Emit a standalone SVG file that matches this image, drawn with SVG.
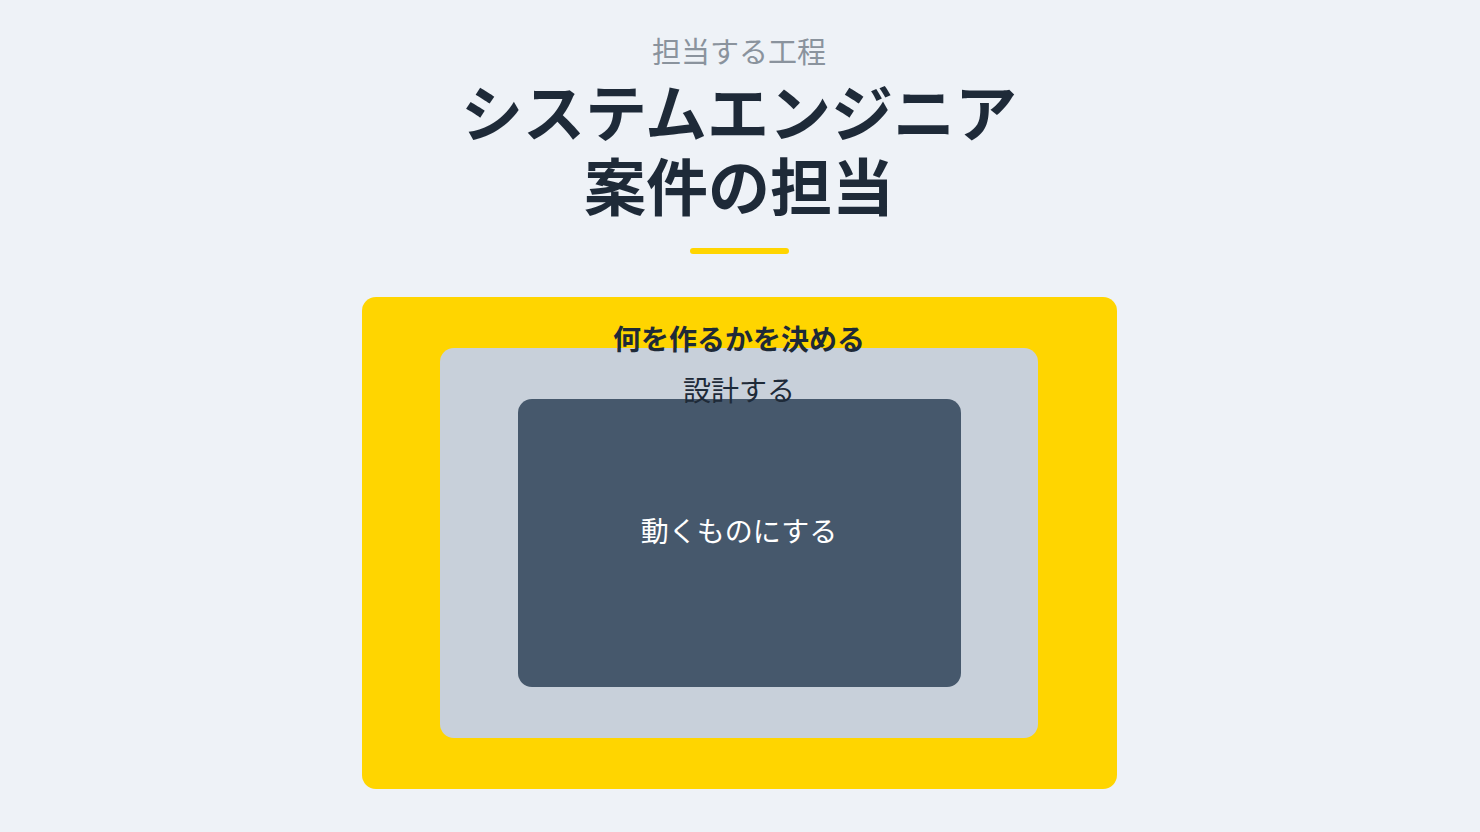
<svg xmlns="http://www.w3.org/2000/svg" width="1480" height="832" viewBox="0 0 1480 832">
<style>
text{font-family:"Noto Sans CJK JP","Noto Sans",sans-serif;text-anchor:middle}
.sub{font-size:29px;fill:#8a939d}
.title{font-size:62px;font-weight:700;fill:#1e2a38}
.lbl{font-size:28px}
</style>
<rect width="1480" height="832" fill="#eef2f7"/>
<g id="header">
<text class="sub" x="739" y="63">担当する工程</text>
<text class="title" x="739" y="137">システムエンジニア</text>
<text class="title" x="739" y="211">案件の担当</text>
<rect x="690" y="248" width="99" height="6" rx="3" fill="#ffd500"/>
</g>
<g id="outer">
<rect x="362" y="297" width="755" height="492" rx="14" fill="#ffd500"/>
</g>
<g id="middle">
<rect x="440" y="348" width="598" height="390" rx="14" fill="#c8d0da"/>
</g>
<g id="inner">
<rect x="518" y="399" width="443" height="288" rx="14" fill="#46586c"/>
</g>
<g id="labels">
<text class="lbl" x="739" y="350" font-weight="700" fill="#1e2a38">何を作るかを決める</text>
<text class="lbl" x="739" y="401" fill="#1e2a38">設計する</text>
<text class="lbl" x="739" y="542" fill="#ffffff">動くものにする</text>
</g>
</svg>
